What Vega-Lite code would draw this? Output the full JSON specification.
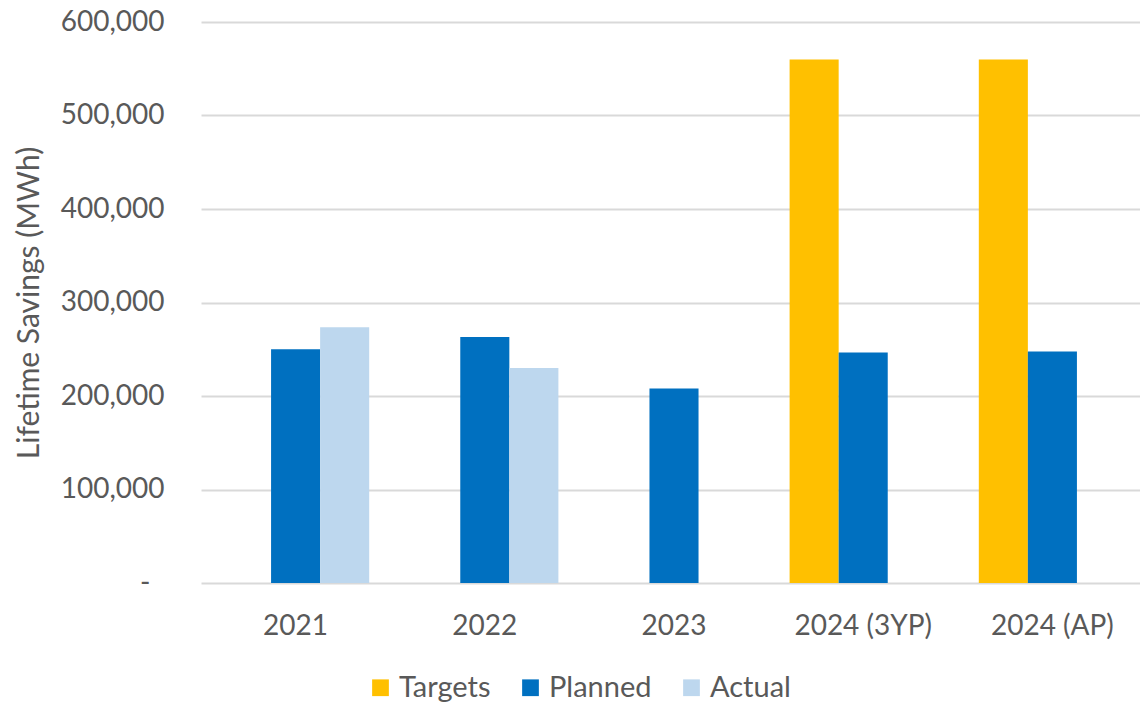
{
  "$schema": "https://vega.github.io/schema/vega-lite/v6.json",
  "autosize": {"type": "none"},
  "padding": {"left": 201, "top": 22, "right": 0, "bottom": 120},
  "width": 946,
  "height": 561,
  "background": "white",
  "config": {
    "view": {"stroke": null},
    "font": "Lato",
    "axis": {"labelFont": "Lato", "titleFont": "Lato", "labelColor": "#595959", "titleColor": "#595959"},
    "legend": {"labelFont": "Lato"}
  },
  "data": {
    "values": [
      {"year": "2021", "series": "Planned", "mwh": 250000},
      {"year": "2021", "series": "Actual", "mwh": 273500},
      {"year": "2022", "series": "Planned", "mwh": 263000},
      {"year": "2022", "series": "Actual", "mwh": 230000},
      {"year": "2023", "series": "Planned", "mwh": 208000},
      {"year": "2024 (3YP)", "series": "Targets", "mwh": 560000},
      {"year": "2024 (3YP)", "series": "Planned", "mwh": 246500},
      {"year": "2024 (AP)", "series": "Targets", "mwh": 560000},
      {"year": "2024 (AP)", "series": "Planned", "mwh": 247500}
    ]
  },
  "mark": {"type": "bar"},
  "encoding": {
    "x": {
      "field": "year",
      "type": "nominal",
      "sort": ["2021", "2022", "2023", "2024 (3YP)", "2024 (AP)"],
      "scale": {"paddingInner": 0.222, "paddingOuter": 0.111},
      "axis": {
        "title": null,
        "labelAngle": 0,
        "labelFontSize": 28,
        "labelPadding": 29,
        "ticks": false,
        "domain": false,
        "grid": false
      }
    },
    "xOffset": {
      "field": "series",
      "type": "nominal",
      "sort": ["Targets", "Planned", "Actual"],
      "scale": {"domain": ["Targets", "Planned", "Actual"], "paddingInner": 0, "paddingOuter": 0}
    },
    "y": {
      "field": "mwh",
      "type": "quantitative",
      "scale": {"domain": [0, 600000], "nice": false},
      "axis": {
        "title": "Lifetime Savings (MWh)",
        "titleFontSize": 30,
        "titleFontWeight": "normal",
        "titlePadding": 16,
        "values": [0, 100000, 200000, 300000, 400000, 500000, 600000],
        "labelExpr": "datum.value == 0 ? '-' : format(datum.value, ',')",
        "labelFontSize": 28,
        "labelPadding": {"condition": {"test": "datum.value == 0", "value": 51}, "value": 37},
        "ticks": false,
        "domain": false,
        "grid": true,
        "gridColor": "#D9D9D9",
        "gridWidth": 2
      }
    },
    "color": {
      "field": "series",
      "type": "nominal",
      "scale": {"domain": ["Targets", "Planned", "Actual"], "range": ["#FFC000", "#0070C0", "#BDD7EE"]},
      "legend": {
        "title": null,
        "orient": "none",
        "direction": "horizontal",
        "legendX": 165,
        "legendY": 651,
        "symbolType": "square",
        "symbolSize": 280,
        "symbolStrokeWidth": 0,
        "labelFontSize": 29,
        "labelColor": "#595959",
        "labelOffset": 4,
        "columnPadding": 25
      }
    }
  }
}
